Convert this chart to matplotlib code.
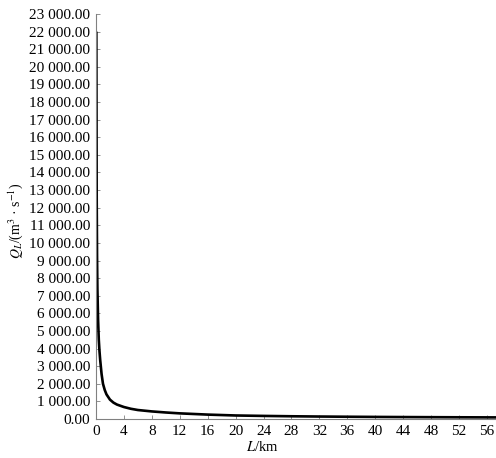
"""
Discharge Q_L decay along distance L.
"""

import numpy as np
import matplotlib.pyplot as plt
from matplotlib.ticker import FuncFormatter

plt.rcParams["font.family"] = ["Liberation Serif", "DejaVu Serif"]
plt.rcParams["mathtext.fontset"] = "stix"

# Data
dist_km = [0.05, 0.1, 0.15, 0.2, 0.3, 0.4, 0.5, 0.6, 0.8, 1.0, 1.25, 1.5,
           2, 2.5, 3, 4, 5, 6, 8, 10, 12, 16, 20, 24, 28, 32, 36, 40,
           44, 48, 52, 56, 58]
q_flow = [22000, 12500, 9200, 7400, 5600, 4500, 3850, 3350, 2550, 2000,
          1650, 1400, 1100, 930, 820, 680, 580, 510, 430, 370, 320, 250,
          200, 175, 155, 140, 128, 118, 110, 103, 97, 92, 90]

x_ticks = np.arange(0, 57, 4)
y_ticks = np.arange(0, 23001, 1000)

fig = plt.figure(figsize=(4.96, 4.58), dpi=100)
ax = fig.add_axes([96 / 496, 1 - 419 / 458, 400 / 496, (419 - 14) / 458])

ax.plot(dist_km, q_flow, color="black", linewidth=1.9, solid_capstyle="butt")

ax.set_xlim(0, 400 / 6.98)
ax.set_ylim(0, 23000)
ax.set_xticks(x_ticks)
ax.set_yticks(y_ticks)


def thousands(v, pos):
    s = f"{v:,.2f}"
    return s.replace(",", " ")


ax.yaxis.set_major_formatter(FuncFormatter(thousands))

for side in ["top", "right"]:
    ax.spines[side].set_visible(False)
for side in ["left", "bottom"]:
    ax.spines[side].set_color("#808080")
    ax.spines[side].set_linewidth(0.8)

ax.tick_params(axis="both", direction="in", length=3, width=0.6,
               color="#808080", labelsize=11, pad=4)

ax.text(-0.2, 0.49, r"$Q_L$/(m$^3$ · s$^{-1}$)", transform=ax.transAxes,
        rotation=90, ha="center", va="center", fontsize=10)
ax.text(0.415, -0.068, r"$L$/km", transform=ax.transAxes,
        ha="center", va="center", fontsize=10.5)

plt.savefig("out.png", dpi=100)
plt.close(fig)
